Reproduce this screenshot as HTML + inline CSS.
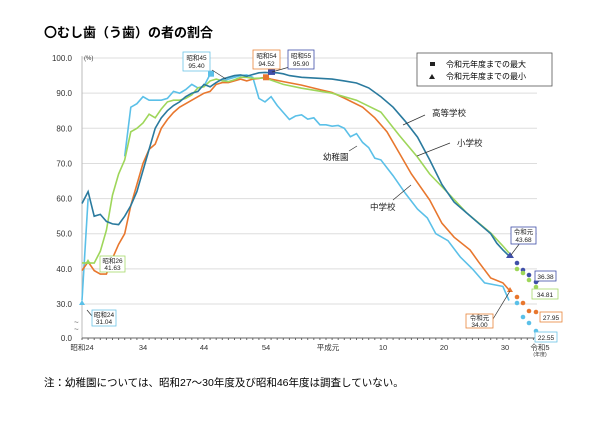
<!DOCTYPE html>
<html><head><meta charset="utf-8">
<style>
body{margin:0;background:#fff;width:600px;height:428px;overflow:hidden;font-family:"Liberation Sans","Noto Sans CJK JP",sans-serif;}
svg text{font-family:"Liberation Sans","Noto Sans CJK JP",sans-serif;}
</style></head><body>
<svg id="s" width="600" height="428" xmlns="http://www.w3.org/2000/svg">
<text x="44" y="37" font-size="13" font-weight="bold" fill="#000">〇むし歯（う歯）の者の割合</text>
<g id="grid" stroke="#ddd" stroke-width="1"></g>
<line x1="82" y1="56" x2="82" y2="338" stroke="#bbb"/>
<line x1="82" y1="338" x2="545" y2="338" stroke="#666"/>
<g id="ticks" stroke="#666"></g>
<g id="ylab" font-size="8" fill="#333" text-anchor="end"></g>
<text x="84" y="60" font-size="6" fill="#333">(%)</text>
<text x="74" y="325" font-size="8" fill="#666">~</text>
<text x="74" y="332" font-size="8" fill="#666">~</text>
<g font-size="7.5" fill="#333" text-anchor="middle">
<text x="82" y="350">昭和24</text><text x="143" y="350">34</text><text x="204" y="350">44</text><text x="266" y="350">54</text>
<text x="328" y="350">平成元</text><text x="383" y="350">10</text><text x="444" y="350">20</text><text x="505" y="350">30</text>
<text x="540" y="350">令和5</text><text x="540" y="356" font-size="5">(年度)</text>
</g>
<g id="lines" fill="none" stroke-width="1.6"></g>
<g id="dots"></g>
<!-- legend -->
<rect x="417" y="53" width="135" height="33" fill="#fff" stroke="#555" stroke-width="0.8"/>
<rect x="430" y="62" width="5" height="4" fill="#222"/>
<polygon points="432,74 429,79 435,79" fill="#222"/>
<text x="446" y="67" font-size="8">令和元年度までの最大</text>
<text x="446" y="79" font-size="8">令和元年度までの最小</text>
<!-- series labels -->
<g font-size="8.5" fill="#222">
<text x="432" y="116">高等学校</text><text x="457" y="146">小学校</text>
<text x="323" y="160">幼稚園</text><text x="370" y="210">中学校</text>
</g>
<g stroke="#333" stroke-width="0.7">
<line x1="425" y1="115" x2="403" y2="125"/><line x1="450" y1="143" x2="417" y2="156"/>
<line x1="357" y1="146" x2="349" y2="151"/><line x1="411" y1="185" x2="393" y2="200"/>
<line x1="212" y1="70" x2="226" y2="79"/><line x1="293" y1="66" x2="272" y2="72"/>
<line x1="87" y1="310" x2="92" y2="316"/><line x1="520" y1="243" x2="511" y2="255"/>
<line x1="548" y1="271" x2="538" y2="282"/><line x1="493" y1="319" x2="510" y2="291"/>
</g>
<!-- callouts -->
<g font-size="6.5" text-anchor="middle" fill="#222">
<rect x="183" y="52" width="27" height="19" fill="#fff" stroke="#6cc4e6" stroke-width="0.8"/><text x="196.5" y="60">昭和45</text><text x="196.5" y="68">95.40</text>
<rect x="253" y="50" width="27" height="19" fill="#fff" stroke="#e8843a" stroke-width="0.8"/><text x="266.5" y="58">昭和54</text><text x="266.5" y="66">94.52</text>
<rect x="288" y="50" width="26" height="19" fill="#fff" stroke="#3f4fa8" stroke-width="0.8"/><text x="301" y="58">昭和55</text><text x="301" y="66">95.90</text>
<rect x="100" y="256" width="25" height="16" fill="#fff" stroke="#a6d96a" stroke-width="0.8"/><text x="112.5" y="263">昭和26</text><text x="112.5" y="270">41.63</text>
<rect x="92" y="310" width="24" height="16" fill="#fff" stroke="#6cc4e6" stroke-width="0.8"/><text x="104" y="317">昭和24</text><text x="104" y="324">31.04</text>
<rect x="511" y="227" width="25" height="17" fill="#fff" stroke="#3f4fa8" stroke-width="0.8"/><text x="523.5" y="234">令和元</text><text x="523.5" y="242">43.68</text>
<rect x="535" y="271" width="21" height="10" fill="#fff" stroke="#3f4fa8" stroke-width="0.8"/><text x="545.5" y="279">36.38</text>
<rect x="532" y="289" width="26" height="10" fill="#fff" stroke="#a6d96a" stroke-width="0.8"/><text x="545" y="297">34.81</text>
<rect x="540" y="312" width="22" height="10" fill="#fff" stroke="#e8843a" stroke-width="0.8"/><text x="551" y="320">27.95</text>
<rect x="535" y="332" width="22" height="10" fill="#fff" stroke="#6cc4e6" stroke-width="0.8"/><text x="546" y="340">22.55</text>
<rect x="466" y="314" width="27" height="14" fill="#fff" stroke="#e8843a" stroke-width="0.8"/><text x="479.5" y="320">令和元</text><text x="479.5" y="327">34.00</text>
</g>
<text x="44" y="386" font-size="10.5" fill="#000">注：幼稚園については、昭和27～30年度及び昭和46年度は調査していない。</text>
</svg>
<script>
var NS="http://www.w3.org/2000/svg",s=document.getElementById('s');
function el(p,t,a){var e=document.createElementNS(NS,t);for(var k in a)e.setAttribute(k,a[k]);document.getElementById(p).appendChild(e);return e;}
function X(yr){return 82+(yr-1949)*6.1;}
function Y(v){return 304-(v-30)*3.514;}
[100,90,80,70,60,50,40,30].forEach(function(v){var y=Y(v);el('grid','line',{x1:82,x2:537,y1:y,y2:y});var t=el('ylab','text',{x:72,y:y+3});t.textContent=v.toFixed(1);});
var t0=el('ylab','text',{x:72,y:341});t0.textContent="0.0";
for(var yr=1949;yr<=2023;yr++){el('ticks','line',{x1:X(yr),x2:X(yr),y1:338,y2:340});}
function interp(k){var out=[];for(var i=0;i<k.length-1;i++){var a=k[i],b=k[i+1];for(var y=a[0];y<b[0];y++){out.push([y,a[1]+(b[1]-a[1])*(y-a[0])/(b[0]-a[0])]);}}out.push(k[k.length-1]);return out;}
function line(pts,col){el('lines','polyline',{points:pts.map(function(p){return X(p[0]).toFixed(1)+","+Y(p[1]).toFixed(1)}).join(" "),stroke:col});}
var teal=[[1949,58.6],[1950,62],[1951,55],[1952,55.5],[1953,53.5],[1954,52.8],[1955,52.6],[1956,55],[1957,58],[1958,62],[1959,68],[1960,74],[1961,80],[1962,83],[1963,85],[1964,86.5],[1965,87.5],[1966,89],[1967,90],[1968,90.5],[1969,92.5],[1970,91.8],[1971,93],[1972,94],[1973,94.5],[1974,95],[1975,95.2],[1976,94.8],[1977,95.3],[1978,95.8],[1979,95.9],[1980,95.8],[1981,95.8],[1982,95.5],[1983,95],[1985,94.5],[1990,94.0],[1992,93.5],[1994,92.9],[1996,91.5],[1998,89],[2000,86],[2002,82],[2004,77.5],[2006,71],[2008,64],[2010,59],[2012,56],[2014,53],[2016,50],[2017,47.3],[2018,45.4],[2019,43.68]];
var green=[[1949,41.7],[1950,41.7],[1951,41.63],[1952,45],[1953,51],[1954,61],[1955,67],[1956,71],[1957,79],[1958,80],[1959,81.5],[1960,84],[1961,83],[1962,85.5],[1963,87.5],[1964,88],[1965,88],[1966,88.5],[1967,89.5],[1968,91.5],[1969,91.8],[1970,93.5],[1971,94],[1972,93.5],[1973,93.3],[1974,93.8],[1975,94.5],[1976,94.5],[1977,94.2],[1979,94.3],[1982,92.5],[1985,91.4],[1990,90],[1994,88],[1998,84.6],[2001,78],[2004,71.8],[2006,67],[2009,61.6],[2012,56],[2016,50.2],[2018,46.5],[2019,44.5]];
var orange=[[1949,39.5],[1950,42],[1951,39.5],[1952,38.5],[1953,38.5],[1954,43],[1955,47],[1956,50],[1957,58],[1958,64],[1959,70],[1960,74],[1961,75.5],[1962,80],[1963,82.5],[1964,84.5],[1965,86],[1966,87],[1967,88],[1968,89],[1969,90],[1970,90.5],[1971,92.5],[1972,93],[1973,93],[1974,93.5],[1975,94],[1976,93.5],[1977,94],[1978,94.2],[1979,94.52],[1980,94],[1982,93.3],[1985,92.3],[1988,91],[1990,90.2],[1992,88.6],[1995,86],[1997,83],[1999,79],[2001,73],[2003,67],[2006,59.6],[2008,53],[2010,49],[2012.6,45.4],[2014,42],[2016,37.4],[2018,36],[2019,34]];
var lb1=[[1949,31.04],[1950,60]];
var lb2=[[1956,72],[1957,86],[1958,87],[1959,89],[1960,88],[1961,88],[1962,88],[1963,88.5],[1964,90.5],[1965,90],[1966,91],[1967,92.5],[1968,91.5],[1969,92],[1970,95.4]];
var lb3=[[1972,93.5],[1973,94],[1974,94.5],[1975,95],[1976,95.2],[1977,94.5],[1978,88.5],[1979,87.5],[1980,89],[1981,86.5],[1982,84.5],[1983,82.5],[1984,83.5],[1985,83.8],[1986,82.6],[1987,83],[1988,81],[1989,81],[1990,80.6],[1991,80.8],[1992,80],[1993,77.6],[1994,78.5],[1995,76],[1996,74.5],[1997,71.5],[1998,71],[2000,66.5],[2002,61.5],[2004,57],[2005.6,54.5],[2007,50],[2009,48],[2011,43.4],[2013,40],[2015,36],[2018,35],[2019,31]];
line(lb1,'#5bc0e8');line(lb2,'#5bc0e8');line(lb3,'#5bc0e8');
line(orange,'#e8772e');line(green,'#9ed65a');line(teal,'#2a7a9e');
// markers
el('dots','rect',{x:208,y:Y(95.4)-3.5,width:6,height:6,fill:'#5bc0e8'});
el('dots','rect',{x:263,y:Y(94.52)-3,width:6,height:6,fill:'#e8772e'});
el('dots','rect',{x:268,y:Y(95.9)-3.5,width:7,height:6,fill:'#3f4fa8'});
el('dots','polygon',{points:"88,259 85,264 91,264",fill:'#9ed65a'});
el('dots','polygon',{points:"82,300 79,305 85,305",fill:'#5bc0e8'});
el('dots','polygon',{points:"510,252 506,258 514,258",fill:'#3f4fa8'});
el('dots','polygon',{points:"510,287 507,292 513,292",fill:'#e8772e'});
var D=[['#3f4fa8',[263,270,275,282]],['#9ed65a',[269,273,280,287]],['#e8772e',[297,303,311,312]],['#5bc0e8',[303,317,323,331]]];
D.forEach(function(d){[517,523,529,536].forEach(function(x,i){el('dots','circle',{cx:x,cy:d[1][i],r:2.3,fill:d[0]});});});
</script>
</body></html>
